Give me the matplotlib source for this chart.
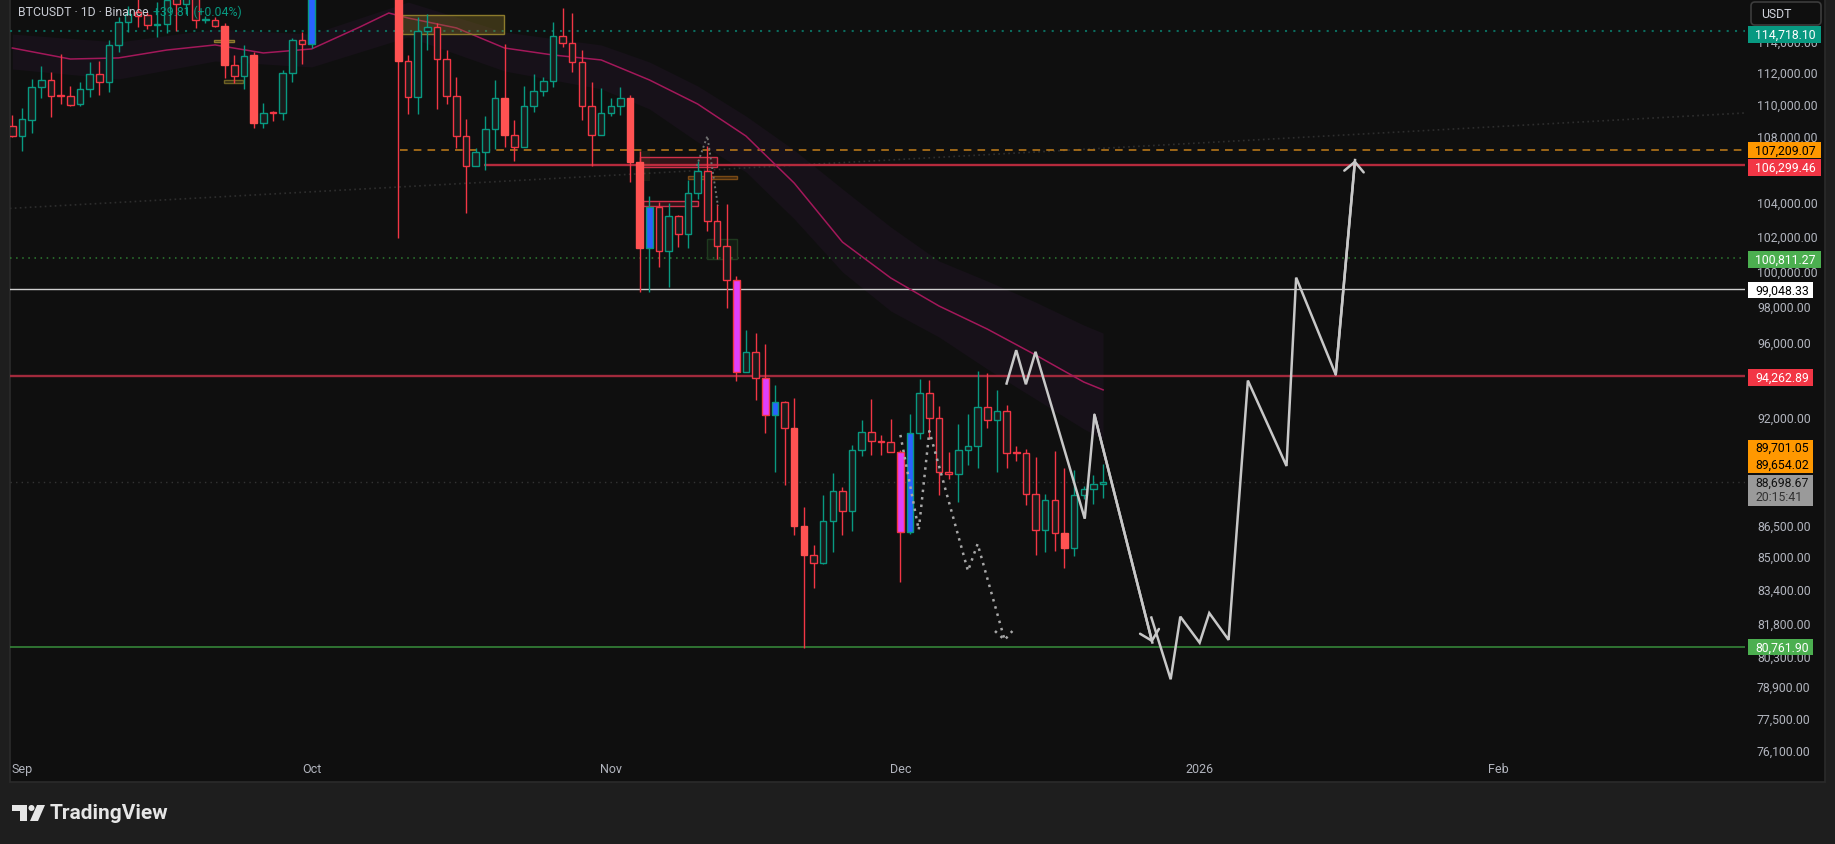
import matplotlib
matplotlib.use("Agg")
import matplotlib.pyplot as plt
from matplotlib.patches import Rectangle, FancyBboxPatch, Polygon, Circle

plt.rcParams['font.family'] = ['Roboto', 'DejaVu Sans']

W, H = 1835, 845

# daily candles, day 0 = 1 Sep 2025 (last one = 22 Dec)
days = list(range(-1, 113))
opens = [108660,
         108080, 109070, 111100, 111570, 110620, 110540, 110030, 110980, 111930, 111430,
         113800, 115290, 115960, 115780, 115120, 115190, 117100, 116500, 117200, 115450,
         115470, 115040, 112550, 111840, 113160, 108850, 109500, 109470, 112000, 114140,
         113860, 118600, 120500, 122200, 122400, 123500, 124700, 121400, 123300, 121700,
         112770, 110470, 114750, 114970, 112890, 110570, 108040, 106250, 107060, 108470,
         110410, 108140, 107410, 109900, 110840, 111500, 114390, 113930, 112750, 109900,
         108140, 109470, 109940, 110410, 106450, 101360, 103760, 101220, 103230, 102170,
         104590, 105910, 102930, 101510, 99560, 94480, 95530, 94130, 92170, 92880,
         91470, 86530, 85100, 84690, 86760, 88240, 87270, 90340, 91270, 90800,
         90750, 90270, 86200, 91220, 93360, 92000, 89230, 89130, 90330, 90540,
         92570, 91930, 92400, 90230, 90170, 88090, 86330, 87820, 86150, 85460,
         88080, 88340, 88620]
highs = [109360,
         109800, 111630, 112440, 112060, 113230, 111160, 111430, 112730, 112800, 114170,
         115630, 116400, 116900, 115960, 116620, 117000, 117300, 117800, 117500, 115730,
         115630, 115250, 113160, 113820, 113380, 110120, 109600, 112230, 114270, 114640,
         118900, 121000, 123900, 122900, 125700, 126200, 125100, 124200, 123800, 122500,
         113160, 115630, 115850, 115250, 113490, 111750, 109120, 107350, 109280, 111570,
         113880, 109050, 111160, 111950, 111750, 115290, 116220, 115900, 113490, 111430,
         111030, 110410, 111100, 110620, 107160, 104410, 104050, 104010, 103300, 105380,
         106550, 107470, 103950, 103950, 99760, 96750, 96580, 96000, 93760, 92900,
         93070, 87460, 85590, 88080, 89150, 88440, 90610, 91910, 93020, 91130,
         91960, 90350, 92230, 94080, 94030, 92670, 90250, 91700, 92230, 94490,
         94410, 93490, 92720, 90540, 90400, 89980, 88120, 90300, 89420, 89310,
         88520, 89050, 89640]
lows = [107980,
        107160, 108250, 110450, 109220, 110050, 109900, 109950, 110510, 110640, 110810,
        113340, 114640, 114970, 114860, 114320, 114580, 114700, 115850, 114900, 115250,
        115000, 111700, 111360, 111000, 108540, 108540, 108960, 109070, 111470, 112620,
        113600, 118300, 119300, 121000, 122000, 123100, 120600, 121000, 119600, 101940,
        109430, 109430, 113510, 109740, 110050, 107350, 103450, 106200, 106010, 107260,
        107390, 106560, 107380, 109580, 110570, 111130, 113690, 112100, 109070, 106210,
        108100, 109330, 109380, 105240, 98880, 98880, 100270, 99170, 101420, 101360,
        104250, 102380, 100740, 97950, 93950, 94450, 92980, 91220, 89210, 88570,
        86080, 80700, 83500, 84650, 85260, 86080, 86280, 90030, 90110, 90080,
        90250, 83810, 86110, 90920, 90920, 88040, 88870, 87690, 89590, 89420,
        91490, 89210, 89420, 89760, 87540, 85110, 85260, 85310, 84460, 85060,
        87860, 87590, 87890]
closes = [108080,
          109120, 111100, 111570, 110570, 110540, 109990, 110980, 111930, 111430, 113800,
          115290, 115850, 115730, 115100, 115190, 116800, 116500, 117200, 115470, 115500,
          115040, 112550, 111840, 113120, 108850, 109470, 109480, 112000, 114140, 113860,
          118600, 120500, 122200, 122400, 123500, 124700, 121400, 123300, 121700, 112770,
          110470, 114750, 114970, 112890, 110570, 108040, 106250, 107060, 108470, 110410,
          108140, 107410, 109900, 110840, 111500, 114390, 113930, 112750, 109900, 108140,
          109470, 109940, 110410, 106450, 101360, 103760, 101220, 103230, 102170, 104590,
          105910, 102930, 101510, 99560, 94480, 95530, 94130, 92170, 92880, 91470,
          86530, 85100, 84690, 86760, 88240, 87270, 90340, 91270, 90800, 90750,
          90270, 86200, 91220, 93360, 92000, 89230, 89130, 90330, 90540, 92570,
          91930, 92400, 90170, 90170, 88090, 86330, 87820, 86150, 85460, 88080,
          88340, 88620, 88699]
# coloured candles: r = strong red, b = blue, m = magenta
special = {21: 'r', 24: 'r', 30: 'b', 39: 'r', 50: 'r', 63: 'r', 64: 'r', 65: 'b',
           74: 'm', 77: 'm', 78: 'b', 80: 'r', 81: 'r', 91: 'm', 92: 'b', 108: 'r'}

# moving average and its band
ma_days = [-1, 5, 10, 15, 20, 25, 30, 35, 38, 40, 45, 50, 55, 60, 65, 70, 75, 80, 85, 90,
           95, 100, 105, 110, 112]
ma_vals = [113620, 112910, 112980, 113490, 113820, 113300, 113560, 114990, 115910, 115580,
           114930, 113620, 113170, 112850, 111570, 110050, 108060, 105200, 101720, 99660,
           98080, 96800, 95380, 93920, 93500]
band_days = [-1, 10, 20, 30, 40, 50, 60, 65, 70, 75, 80, 85, 90, 95, 100, 105, 110, 112]
band_hi = [114530, 114010, 114860, 114530, 116640, 114660, 113820, 112720, 111190, 109300,
           107200, 104850, 102600, 100630, 99490, 98300, 97020, 96580]
band_lo = [112270, 111630, 112780, 112400, 114340, 112140, 111000, 109740, 107690, 105870,
           103070, 100000, 97800, 96360, 94620, 93020, 91440, 90920]

# drawn projections
path_a_days = [102.0, 103.0, 104.0, 105.0, 110.1, 111.1, 117.1]
path_a_prices = [93840, 95640, 93800, 95550, 86880, 92190, 80960]
path_b_days = [117.0, 119.0, 120.0, 122.0, 123.0, 125.0, 127.0, 131.0, 132.0, 136.1, 138.1]
path_b_prices = [82120, 79280, 82160, 80950, 82330, 81080, 94000, 89530, 99680, 94320, 106590]
dot_days = [91.0, 92.9, 94.0, 98.0, 99.0, 101.8]
dot_prices = [91130, 86320, 91330, 84330, 85640, 81080]
dot_head_days = [100.8, 101.8, 102.6]
dot_head_prices = [81490, 81080, 81490]
nov_dot_days = [69.9, 71.0, 72.1]
nov_dot_prices = [106230, 108060, 103830]
trend_days = [-2.3, 178.5]
trend_prices = [103660, 109490]

# zones: day from, day to, price low, price high, fill, edge
zones = [
    (39.4, 49.9, 114530, 115780, (0.55, 0.47, 0.15, 0.35), '#8c7b2c'),
    (19.9, 22.0, 114010, 114140, (0.55, 0.47, 0.15, 0.35), '#8c7b2c'),
    (20.9, 22.9, 111380, 111570, (0.55, 0.47, 0.15, 0.25), '#6e6224'),
    (63.9, 65.1, 105320, 107150, (0.50, 0.45, 0.20, 0.15), (0, 0, 0, 0)),
    (64.0, 72.0, 106170, 106800, (0.95, 0.20, 0.30, 0.15), '#d0304a'),
    (64.3, 70.0, 103830, 104130, (0.95, 0.20, 0.30, 0.15), '#d0304a'),
    (69.0, 74.1, 105450, 105630, (0.80, 0.45, 0.10, 0.25), '#7a4a15'),
    (71.0, 74.1, 100744, 101900, (0.20, 0.50, 0.20, 0.12), '#1f3a1f'),
]

# visible price scale marks (the rest sit under the level labels)
price_ticks = [114000, 112000, 110000, 108000, 104000, 102000, 100000, 98000, 96000,
               92000, 86500, 85000, 83400, 81800, 80300, 78900, 77500, 76100]
month_labels = ['Sep', 'Oct', 'Nov', 'Dec', '2026', 'Feb']
month_days = [0, 30, 61, 91, 122, 153]

GREEN = '#089981'
RED = '#f23645'
BODY = '#1a1b1b'
PATH = '#c8c8c8'

fig = plt.figure(figsize=(W / 100, H / 100), dpi=100)
fig.patch.set_facecolor('#1e1e1e')

bg = fig.add_axes([0, 0, 1, 1], zorder=0)
bg.set_xlim(0, W)
bg.set_ylim(H, 0)
bg.axis('off')
bg.add_patch(Rectangle((10, 0), 1815, 783, facecolor='#0f0f0f', edgecolor='#2b2b2b', lw=1.2))

ax = fig.add_axes([10 / W, 1 - 783 / H, 1735 / W, 783 / H], zorder=1)
ax.set_facecolor('none')
ax.set_yscale('log')
ax.set_xlim(-1.243, 178.5)
ax.set_ylim(74770, 116840)
ax.axis('off')
x_right = 178.5

# band + MA
ax.fill_between(band_days, band_lo, band_hi, color='#171119', lw=0, zorder=1)
ax.plot(ma_days, ma_vals, color='#a3185a', lw=1.1, zorder=2)

# horizontal levels
ax.plot(trend_days, trend_prices, color='#2e2e2e', lw=1.2, ls=(0, (1, 2)), zorder=1.5)
ax.axhline(114718.10, color='#0b6b5d', lw=1.5, ls=(0, (1, 3)), zorder=1.5)
ax.hlines(107209.07, 39.2, x_right, color='#c47f1a', lw=1.1, linestyles=(0, (5, 4)), zorder=1.5)
ax.hlines(106299.46, 47.9, x_right, color='#b52a3c', lw=1.7, zorder=1.5)
ax.axhline(100811.27, color='#2e7d32', lw=1.1, ls=(0, (1, 3)), zorder=1.5)
ax.axhline(99048.33, color='#cfcfcf', lw=1.0, zorder=1.5)
ax.axhline(94262.89, color='#a12a3c', lw=1.7, zorder=1.5)
ax.axhline(88698.67, color='#343434', lw=1.0, ls=(0, (1, 3)), zorder=1.5)
ax.axhline(80761.90, color='#388e3c', lw=1.1, zorder=1.5)

for d0, d1, plo, phi, face, edge in zones:
    ax.add_patch(Rectangle((d0, plo), d1 - d0, phi - plo, facecolor=face, edgecolor=edge,
                           lw=1.0, zorder=2.5))

# candles
for d, o, h, l, c in zip(days, opens, highs, lows, closes):
    col = GREEN if c >= o else RED
    kind = special.get(d, 'n')
    ax.vlines(d, l, h, color=col, lw=1.0, zorder=3)
    lo_b, hi_b = min(o, c), max(o, c)
    if hi_b / lo_b < 1.0004:
        hi_b = lo_b * 1.0004
    if kind == 'r':
        face, edge = '#ff5252', '#ff5252'
    elif kind == 'b':
        face, edge = '#2962ff', GREEN
    elif kind == 'm':
        face, edge = '#e040fb', RED
    else:
        face, edge = BODY, col
    ax.add_patch(Rectangle((d - 0.34, lo_b), 0.68, hi_b - lo_b, facecolor=face,
                           edgecolor=edge, lw=1.0, zorder=4))

# projections
ax.plot(nov_dot_days, nov_dot_prices, color='#707070', lw=1.4, ls=(0, (1, 1.5)), zorder=5)
ax.plot(dot_days, dot_prices, color='#a8a8a8', lw=1.8, ls=(0, (1, 2)), zorder=5)
ax.plot(dot_head_days, dot_head_prices, color='#a8a8a8', lw=1.8, ls=(0, (1, 2)), zorder=5)
ax.plot(path_a_days, path_a_prices, color=PATH, lw=1.8, zorder=5, solid_joinstyle='miter')
ax.plot(path_b_days, path_b_prices, color=PATH, lw=1.8, zorder=5, solid_joinstyle='miter')
for pd_, pp_ in ((path_a_days, path_a_prices), (path_b_days, path_b_prices)):
    ax.annotate('', xy=(pd_[-1], pp_[-1]), xytext=(pd_[-2], pp_[-2]),
                arrowprops=dict(arrowstyle='->,head_length=0.5,head_width=0.5', color=PATH,
                                lw=1.8, mutation_scale=14, shrinkA=0, shrinkB=0), zorder=6)

# overlay in pixel coords
ov = fig.add_axes([0, 0, 1, 1], zorder=2)
ov.set_xlim(0, W)
ov.set_ylim(H, 0)
ov.axis('off')
ov.set_facecolor('none')


def py(price):
    return H - ax.transData.transform((0, price))[1]


def px(day):
    return ax.transData.transform((day, 100000))[0]


AXIS_TXT = '#b2b5be'
for t in price_ticks:
    ov.text(1757, py(t), f"{t:,.2f}", color=AXIS_TXT, fontsize=8.8, va='center', ha='left',
            zorder=1)
for lbl, d in zip(month_labels, month_days):
    ov.text(px(d), 770, lbl, color=AXIS_TXT, fontsize=9, ha='center', va='center')

level_labels = [
    ("114,718.10", 114718.10, '#089981', 'white', 73, 3.3),
    ("107,209.07", 107209.07, '#ff9800', 'black', 73, 0.4),
    ("106,299.46", 106299.46, '#f23645', 'white', 73, 2.7),
    ("100,811.27", 100811.27, '#4caf50', 'white', 73, 1.5),
    ("99,048.33", 99048.33, '#ffffff', 'black', 65, 1.5),
    ("94,262.89", 94262.89, '#f23645', 'white', 65, 1.7),
    ("80,761.90", 80761.90, '#4caf50', 'white', 65, 0.3),
]
for txt, price, bgc, fgc, wid, dy in level_labels:
    yc = py(price) + dy
    ov.add_patch(Rectangle((1748, yc - 8.2), wid, 16.4, facecolor=bgc, edgecolor='none', zorder=3))
    ov.text(1755, yc, txt, color=fgc, fontsize=8.8, va='center', ha='left', zorder=4)

# stacked labels
y_pair = py(89701.05)
ov.add_patch(Rectangle((1748, y_pair - 23), 65, 33, facecolor='#ff9800', edgecolor='none', zorder=3))
ov.text(1755, y_pair - 15.3, "89,701.05", color='black', fontsize=8.8, va='center', zorder=4)
ov.text(1755, y_pair + 1.3, "89,654.02", color='black', fontsize=8.8, va='center', zorder=4)
y_last = py(88698.67)
ov.add_patch(Rectangle((1748, y_last - 7.5), 65, 31, facecolor='#9a9a9a', edgecolor='none', zorder=3))
ov.text(1755, y_last, "88,698.67", color='#111111', fontsize=8.8, va='center', zorder=4)
ov.text(1755, y_last + 14.5, "20:15:41", color='#333333', fontsize=8.8, va='center', zorder=4)

# header and currency button
ov.text(18, 12, "BTCUSDT · 1D · Binance", color='#c9ccd4', fontsize=8.8, va='center', ha='left', zorder=5)
ov.text(153, 12, "+39.81 (+0.04%)", color='#089981', fontsize=8.8, va='center', ha='left', zorder=5)
ov.add_patch(FancyBboxPatch((1751, 3), 70, 23, boxstyle='round,pad=0,rounding_size=4',
                            facecolor='#0f0f0f', edgecolor='#3c3c3c', lw=1.2, zorder=5))
ov.text(1761, 14.5, "USDT", color='#d1d4dc', fontsize=8.8, va='center', ha='left', zorder=6)

# footer logo
bg.add_patch(Rectangle((12, 806), 15, 6, facecolor='#e6e6e6', edgecolor='none'))
bg.add_patch(Rectangle((20, 806), 7, 16, facecolor='#e6e6e6', edgecolor='none'))
bg.add_patch(Circle((31.5, 809), 3.0, facecolor='#e6e6e6', edgecolor='none'))
bg.add_patch(Polygon([(37, 806), (45, 806), (38, 822), (30, 822)], closed=True,
                     facecolor='#e6e6e6', edgecolor='none'))
bg.text(50, 814, "TradingView", color='#e6e6e6', fontsize=15, fontweight='bold',
        va='center', ha='left')

fig.savefig("out.png", dpi=100, facecolor=fig.get_facecolor())
